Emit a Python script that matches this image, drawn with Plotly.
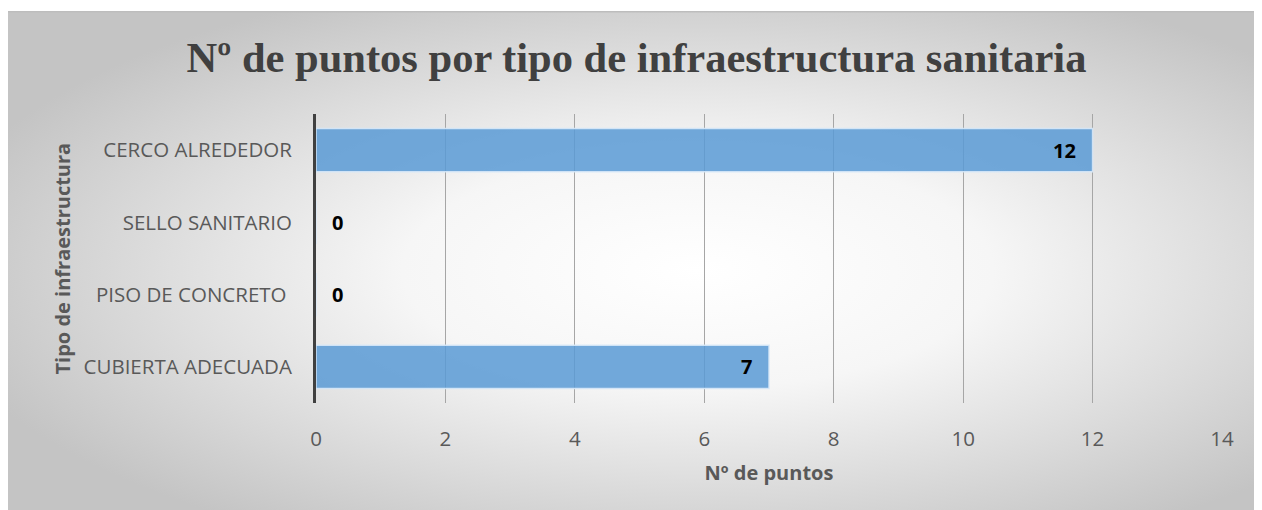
import base64
import plotly.graph_objs as go

# datos
categorias = ['CERCO ALREDEDOR', 'SELLO SANITARIO', 'PISO DE CONCRETO ', 'CUBIERTA ADECUADA']
puntos = [12, 0, 0, 7]
ticks_x = [0, 2, 4, 6, 8, 10, 12, 14]

# la pagina tiene 8px de margen en el body
W, H = 1254, 502
ml, mr, mt, mb = 308, 40, 106, 107
pw, ph = W - ml - mr, H - mt - mb

# fondo degradado radial (como en Excel)
svg = ('<svg xmlns="http://www.w3.org/2000/svg" width="1254" height="499" preserveAspectRatio="none">'
       '<defs><radialGradient id="g" cx="0.55" cy="0.52" r="0.62" fx="0.55" fy="0.52">'
       '<stop offset="0" stop-color="#ffffff"/>'
       '<stop offset="0.38" stop-color="#f6f6f6"/>'
       '<stop offset="1" stop-color="#c4c4c4"/>'
       '</radialGradient></defs>'
       '<rect width="1254" height="499" fill="url(#g)"/>'
       '<rect x="0" y="0" width="1254" height="1.5" fill="#bdbdbd"/>'
       '</svg>')
fondo = 'data:image/svg+xml;base64,' + base64.b64encode(svg.encode()).decode()

fig = go.Figure()

fig.add_trace(
    go.Bar(
        x=puntos,
        y=categorias,
        orientation='h',
        width=0.6,
        marker_color='rgba(91,155,213,0.86)',
        marker_line=dict(color='rgba(215,232,248,0.9)', width=1.5),
        hoverinfo='skip'
    )
)

# etiquetas de datos
anotaciones = []
for cat, val in zip(categorias, puntos):
    if val > 0:
        anotaciones.append(dict(x=val, y=cat, xref='x', yref='y', text='<b>%d</b>' % val,
                                showarrow=False, xanchor='right', xshift=-15,
                                font=dict(family='Open Sans', size=20, color='black')))
    else:
        anotaciones.append(dict(x=val, y=cat, xref='x', yref='y', text='<b>%d</b>' % val,
                                showarrow=False, xanchor='left', xshift=14,
                                font=dict(family='Open Sans', size=20, color='black')))

# titulo del eje y
anotaciones.append(dict(x=(62 - 8 - ml) / pw, y=0.5, xref='paper', yref='paper',
                        text='<b>Tipo de infraestructura</b>', textangle=-90, showarrow=False,
                        xanchor='center', yanchor='middle',
                        font=dict(family='Open Sans', size=20, color='#595959')))

fig.update_layout(
    width=W,
    height=H,
    margin=dict(l=ml, r=mr, t=mt, b=mb, pad=0),
    paper_bgcolor='white',
    plot_bgcolor='rgba(0,0,0,0)',
    showlegend=False,
    title=dict(text='<b>Nº de puntos por tipo de infraestructura sanitaria</b>',
               x=((186 + 1087) / 2 - 8) / W, xanchor='center', y=1 - 49 / H, yanchor='middle',
               font=dict(family='Liberation Serif', size=42.5, color='#404040')),
    xaxis=dict(range=[0, 14], tickvals=ticks_x, showgrid=True, gridcolor='#a6a6a6', gridwidth=1,
               zeroline=False, showline=False,
               ticks='outside', ticklen=17, tickcolor='rgba(0,0,0,0)',
               tickfont=dict(family='Open Sans', size=20.5, color='#595959'),
               title=dict(text='<b>Nº de puntos</b>', standoff=15,
                          font=dict(family='Open Sans', size=20, color='#595959'))),
    yaxis=dict(categoryorder='array', categoryarray=categorias[::-1],
               showline=True, linecolor='#404040', linewidth=3, showgrid=False,
               ticks='outside', ticklen=17, tickcolor='rgba(0,0,0,0)',
               tickfont=dict(family='Open Sans', size=20.5, color='#595959')),
    annotations=anotaciones,
    images=[dict(source=fondo, xref='paper', yref='paper',
                 x=-ml / pw, y=(H - mb - 3) / ph,
                 sizex=W / pw, sizey=(H - 3) / ph,
                 xanchor='left', yanchor='top', sizing='stretch', layer='below')]
)

fig.write_html("out.html")
